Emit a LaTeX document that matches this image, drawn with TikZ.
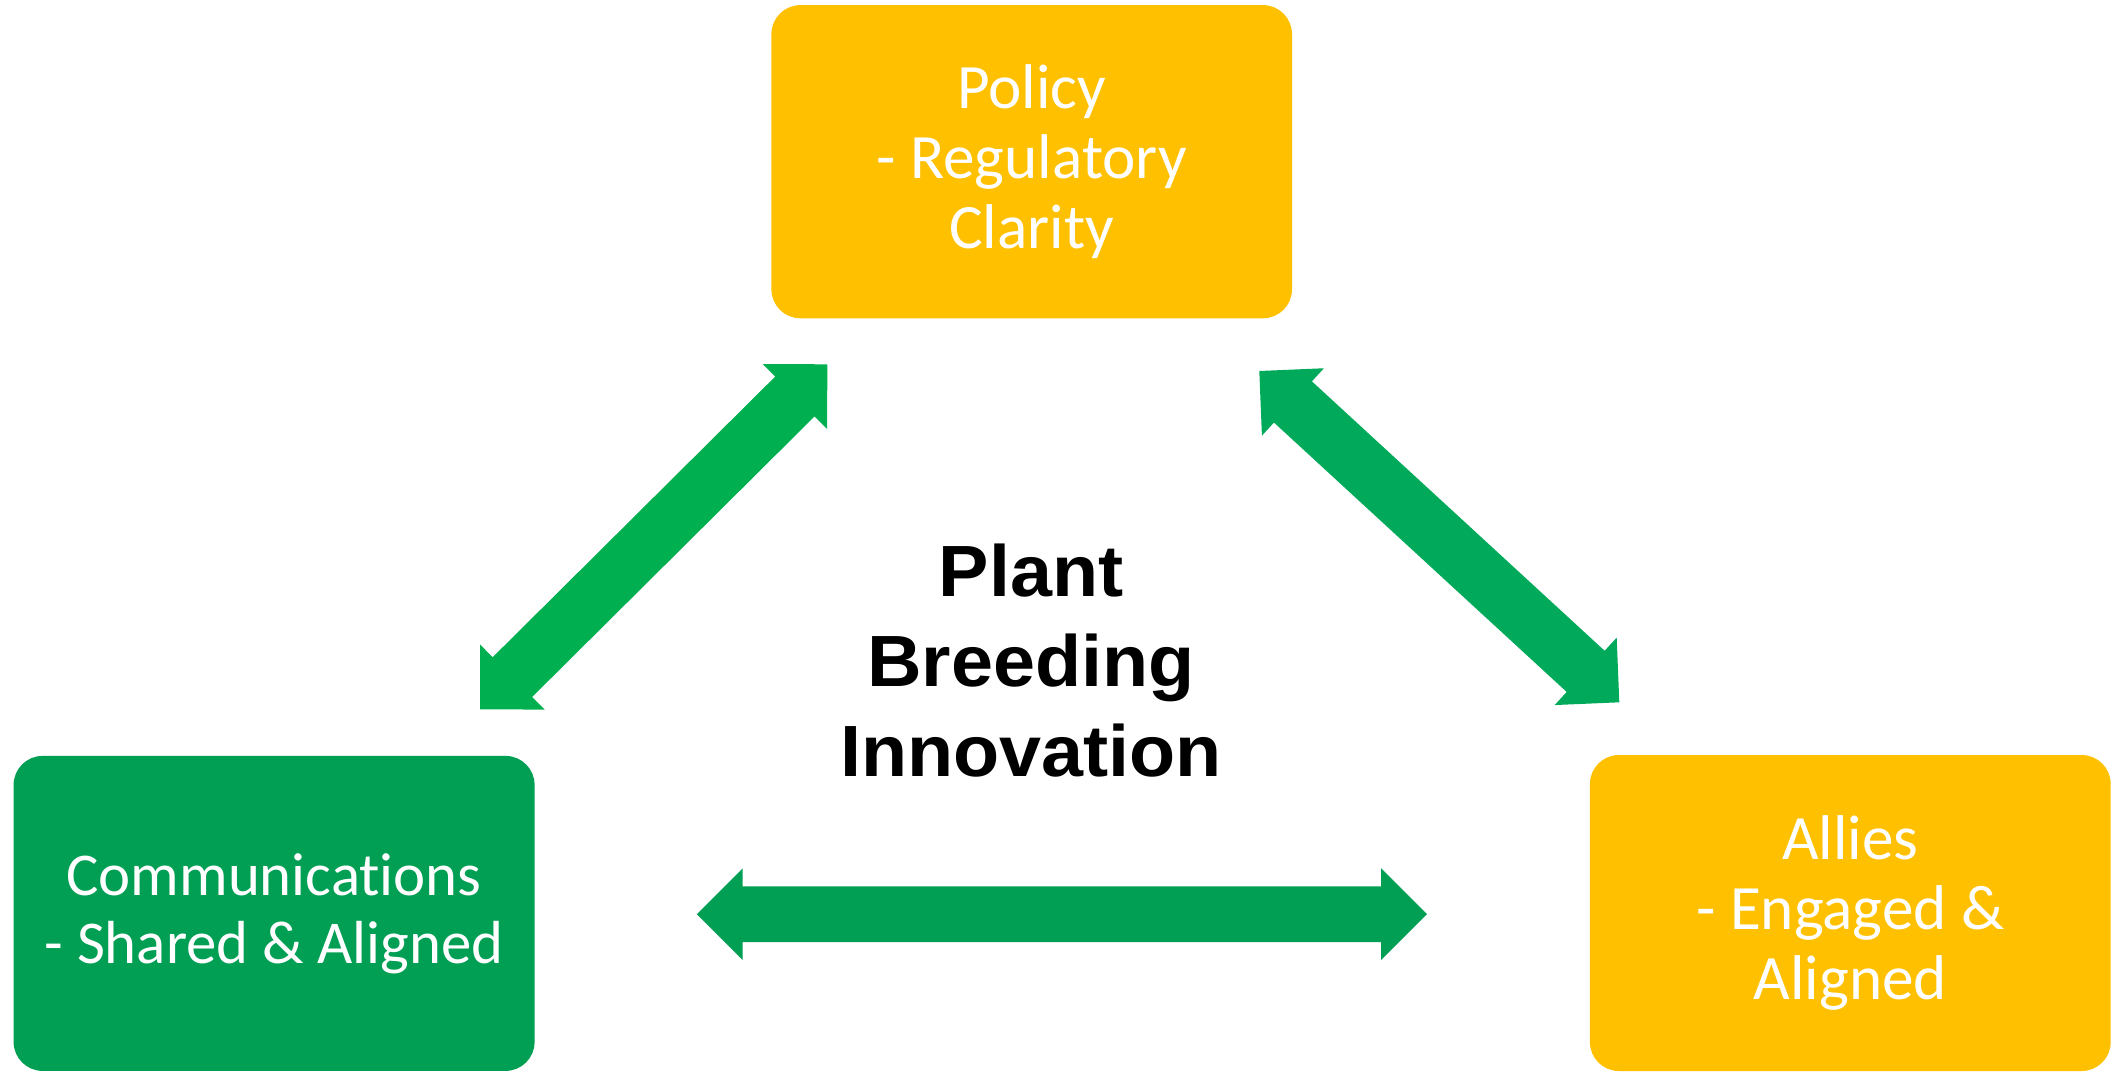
\documentclass[tikz,border=0pt]{standalone}
\usepackage{fontspec}
\usetikzlibrary{calc}
\newfontfamily\boxfont{Carlito}[Ligatures=NoCommon]
\newfontfamily\corefont{Liberation Sans}[FakeStretch=1.04]
\definecolor{amber}{HTML}{FFC000}
\definecolor{leafgreen}{HTML}{009F54}
\definecolor{brightgreen}{HTML}{00B050}
\definecolor{midgreen}{HTML}{00AA5A}

% Block double arrow between two tip points:
% #1 colour, #2 first tip, #3 second tip, #4 head length, #5 head half width, #6 shaft half width
\newcommand\doublebar[6]{%
  \fill[#1] (#2)
    -- ($(#2)!#4!(#3)!#5!90:(#3)$)
    -- ($(#2)!#4!(#3)!#6!90:(#3)$)
    -- ($(#3)!#4!(#2)!#6!-90:(#2)$)
    -- ($(#3)!#4!(#2)!#5!-90:(#2)$)
    -- (#3)
    -- ($(#3)!#4!(#2)!#5!90:(#2)$)
    -- ($(#3)!#4!(#2)!#6!90:(#2)$)
    -- ($(#2)!#4!(#3)!#6!-90:(#3)$)
    -- ($(#2)!#4!(#3)!#5!-90:(#3)$)
    -- cycle;}

\tikzset{
  panel/.style={rectangle, rounded corners=14.5pt, draw=none, text=white,
    align=center, inner sep=0pt, font=\boxfont\fontsize{31.6}{35}\selectfont},
  core/.style={align=center, inner sep=0pt, text=black,
    font=\corefont\bfseries\fontsize{36.3}{45}\selectfont}
}

\begin{document}
\begin{tikzpicture}[x=0.5pt, y=-0.5pt]
  \fill[white] (0,0) rectangle (2117,1072);
  \useasboundingbox (0,0) rectangle (2117,1072);

  % the three panels
  \node[panel, fill=amber, minimum width=260.3pt, minimum height=156.6pt]
    (policy) at (1031.7,161.7) {Policy\\- Regulatory\\Clarity};
  \node[panel, fill=leafgreen, minimum width=260.5pt, minimum height=157.5pt,
        font=\boxfont\fontsize{30.4}{34}\selectfont]
    (comms) at (274.1,913.4) {Communications\\- Shared \& Aligned};
  \node[panel, fill=amber, minimum width=260.4pt, minimum height=158pt]
    (allies) at (1850.3,913) {Allies\\- Engaged \&\\Aligned};

  % central theme
  \node[core] (core) at (1031,661) {Plant\\Breeding\\Innovation};

  % arrow tips
  \coordinate (pc-a) at (480,709.3);
  \coordinate (pc-b) at (827.3,364.3);
  \coordinate (pa-a) at (1259.3,371);
  \coordinate (pa-b) at (1619.3,702.3);
  \coordinate (ca-a) at (696.8,914.2);
  \coordinate (ca-b) at (1427,914.2);

  % connecting double arrows
  \doublebar{brightgreen}{pc-a}{pc-b}{22.85pt}{22.9pt}{14pt}
  \doublebar{midgreen}{pa-a}{pa-b}{22.85pt}{22.9pt}{14pt}
  \doublebar{leafgreen}{ca-a}{ca-b}{22.9pt}{22.9pt}{13.9pt}
\end{tikzpicture}
\end{document}
